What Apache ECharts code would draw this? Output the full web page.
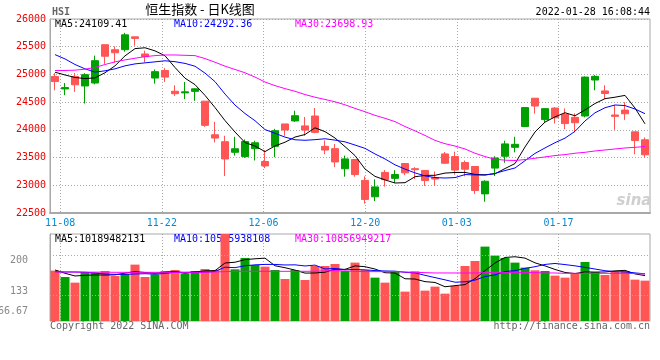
<!DOCTYPE html>
<html><head><meta charset="utf-8">
<script src="https://cdn.jsdelivr.net/npm/echarts@6/dist/echarts.min.js"></script>
<style>html,body{margin:0;padding:0;background:#fff}#c{width:660px;height:360px}</style>
</head><body><div id="c"></div>
<script>
const dates = ['11-05','11-08','11-09','11-10','11-11','11-12','11-15','11-16','11-17','11-18','11-19','11-22','11-23','11-24','11-25','11-26','11-29','11-30',
'12-01','12-02','12-03','12-06','12-07','12-08','12-09','12-10','12-13','12-14','12-15','12-16','12-17','12-20','12-21','12-22','12-23','12-24','12-28','12-29','12-30','12-31',
'01-03','01-04','01-05','01-06','01-07','01-10','01-11','01-12','01-13','01-14','01-17','01-18','01-19','01-20','01-21','01-24','01-25','01-26','01-27','01-28'];
const tickLabels = ['11-08','11-22','12-06','12-20','01-03','01-17'];

const open  = [24964,24738,24964,24792,24845,25536,25446,25446,25678,25369,24935,25071,24696,24667,24695,24518,23911,23786,23595,23518,23661,23429,23702,24107,24161,24071,24250,23702,23661,23298,23464,23089,22792,23232,23125,23393,23300,23268,23140,23566,23518,23411,23339,22845,23310,23524,23685,24060,24571,24185,24393,24280,24226,24250,24899,24702,24268,24357,23964,23821];
const close = [24871,24763,24813,24996,25248,25328,25391,25714,25650,25320,25050,24952,24652,24686,24740,24081,23852,23475,23659,23789,23767,23349,23984,23997,24255,23996,23955,23636,23421,23476,23193,22745,22971,23102,23194,23224,23281,23087,23112,23398,23275,23290,22907,23073,23493,23747,23739,24402,24430,24383,24218,24113,24128,24952,24966,24656,24244,24290,23807,23550];
const low   = [24714,24625,24685,24476,24821,25190,25214,25411,25518,25220,24833,24863,24613,24554,24524,24054,23774,23167,23536,23494,23447,23310,23506,23893,24143,23893,23940,23560,23327,23155,23155,22667,22714,22976,23042,23185,23113,22988,22988,23390,23191,23161,22845,22703,23167,23405,23595,24060,24292,24131,24113,24012,23958,24226,24714,24560,24000,24180,23560,23500];
const high  = [25024,24845,25024,25024,25339,25536,25506,25750,25678,25429,25089,25113,24804,24863,24750,24518,24143,23893,23875,23827,23804,23631,24018,24107,24345,24232,24393,23810,23744,23536,23464,23161,23107,23274,23274,23393,23327,23268,23250,23601,23607,23447,23339,23089,23524,23804,23875,24411,24571,24393,24411,24387,24298,24964,24988,24804,24446,24500,23964,23863];

const ma5  = [25040,24990,24945,24925,24938,25030,25155,25335,25466,25481,25425,25337,25125,24932,24816,24622,24402,24167,23961,23771,23708,23608,23710,23777,23870,23916,24037,23968,23853,23697,23536,23294,23161,23097,23041,23047,23154,23178,23180,23220,23231,23232,23196,23189,23208,23302,23392,23691,23962,24140,24234,24309,24254,24359,24475,24563,24589,24622,24393,24109];
const ma10 = [25357,25280,25179,25101,25042,25065,25101,25155,25190,25209,25227,25246,25230,25199,25148,25024,24870,24646,24447,24294,24165,24005,23938,23869,23821,23812,23823,23839,23815,23784,23726,23666,23565,23475,23369,23292,23224,23169,23139,23131,23139,23193,23187,23184,23214,23266,23312,23444,23575,23674,23768,23851,23973,24161,24308,24399,24449,24438,24376,24292];
const ma30 = [25071,25071,25077,25095,25125,25179,25226,25262,25292,25321,25339,25351,25351,25345,25339,25286,25220,25149,25089,25030,24952,24863,24798,24744,24696,24637,24589,24548,24506,24452,24387,24327,24262,24208,24149,24060,23982,23899,23810,23750,23708,23655,23578,23518,23470,23453,23447,23464,23488,23512,23536,23554,23578,23595,23619,23637,23655,23673,23685,23699];

const volume = [115.8,101.2,88.2,112.7,111.2,115,103.5,108.1,129.6,101.2,107.3,115,117.3,109.6,115,119.6,117.3,205,118.8,144.9,128.8,125,117.3,96.6,117.3,94.3,126.5,126.5,131.1,115,134.2,117.3,99.7,88.2,112.7,67.5,114.2,69.8,79,62.9,80.5,126.5,138,171,150.3,144.9,134.2,122.7,116.5,115,104.3,99.7,109.6,135.7,112.7,105.8,112.7,115,95.1,92.8];
const volMa5  = [117.3,109.7,103.5,105,105.8,105.7,106.1,110.1,113.5,111.5,109.9,112.2,114.1,110.1,112.8,115.3,115.8,133.3,135.1,141.1,143,144.5,127,122.5,117,110.1,110.4,112.2,119.1,118.7,126.7,124.8,119.5,110.9,110.4,97.1,96.5,90.5,88.6,78.7,81.3,83.7,97.4,115.8,133.3,146.1,147.7,144.6,133.7,126.7,118.5,111.6,109,112.9,112.4,112.7,115.3,116.4,108.3,104.3];
const volMa10 = [113.5,112.7,112.7,112,110.5,108.1,107.3,107.3,108.1,108.7,107.8,109.2,112.1,111.8,112.2,112.6,114,123.7,122.6,127,129.1,130.1,130.1,128.8,129.1,126.5,128.5,119.6,120.8,117.8,118.4,117.6,115.9,115,114.6,111.9,110.6,105,99.8,94.6,89.2,90.1,93.9,102.2,106,113.7,115.7,121,124.8,130,132.3,129.7,126.8,123.3,119.5,115.6,113.5,112.7,110.6,108.3];
const volMa30 = [112.7,112.7,112.5,112.3,112.3,112.3,111.9,111.9,111.9,111.9,111.9,111.9,111.9,111.9,111.9,111.9,112.7,113.5,114.2,114.2,114.2,114.2,114.2,114.2,114.2,114.2,114.6,115,115.8,115,114.2,113.5,113.5,113.5,113.5,112.7,111.9,111.2,110.4,110.4,110.4,110.4,110.4,111.2,111.2,111.2,111.2,111.2,111.2,110.4,110.4,109.6,109.6,109.6,109.6,109.6,109.6,109.6,108.9,108.1];
const volGridValues = [152, 60];
const volAxisLabels = ['200', '133', '66.67'];

const MONO = 'DejaVu Sans Mono';
const UP = '#00a000', DOWN = '#ff5555';
const GRIDC = '#a8a8a8';
const isTick = (idx, val) => tickLabels.indexOf(val) >= 0;
const candles = dates.map((d, i) => [open[i], close[i], low[i], high[i]]);
const volData = volume.map((v, i) => ({ value: v, itemStyle: { color: close[i] >= open[i] ? UP : DOWN } }));
const maLine = (data, color, xi, yi) => ({ type: 'line', data, xAxisIndex: xi, yAxisIndex: yi, symbol: 'none', silent: true,
  lineStyle: { color, width: 1 }, z: 5 });
const txt = (text, x, y, fill, font, align) => ({ type: 'text', x, y, silent: true,
  style: { text, fill, font: font || ('10px ' + MONO), align: align || 'left', verticalAlign: 'middle' } });

const chart = echarts.init(document.getElementById('c'));
chart.setOption({
  animation: false,
  grid: [
    { left: 50, top: 19, width: 600, height: 194, show: true, borderColor: GRIDC, borderWidth: 1 },
    { left: 50, top: 234, width: 600, height: 87, show: true, borderColor: GRIDC, borderWidth: 1 }
  ],
  xAxis: [
    { type: 'category', gridIndex: 0, data: dates, boundaryGap: true, show: false, position: 'top' },
    { type: 'category', gridIndex: 0, data: dates, boundaryGap: false, position: 'bottom',
      axisLine: { lineStyle: { color: GRIDC, width: 2 } }, axisTick: { show: false },
      axisLabel: { interval: isTick, color: '#0a88d0', fontFamily: MONO, fontSize: 10, margin: 5 },
      splitLine: { show: true, interval: isTick, lineStyle: { color: GRIDC, type: [1, 2] } } },
    { type: 'category', gridIndex: 1, data: dates, boundaryGap: true, show: false, position: 'top' },
    { type: 'category', gridIndex: 1, data: dates, boundaryGap: false, position: 'bottom',
      axisLine: { show: false }, axisTick: { show: false }, axisLabel: { show: false },
      splitLine: { show: true, interval: isTick, lineStyle: { color: GRIDC, type: [1, 2] } } }
  ],
  yAxis: [
    { type: 'value', gridIndex: 0, min: 22500, max: 26000, interval: 500,
      axisLine: { show: true, lineStyle: { color: GRIDC } }, axisTick: { show: false },
      axisLabel: { color: '#ee0000', fontFamily: MONO, fontSize: 10, margin: 4, formatter: v => String(v) },
      splitLine: { show: true, lineStyle: { color: GRIDC, type: [1, 2] } } },
    { type: 'value', gridIndex: 1, min: 0, max: 200,
      axisLine: { show: true, lineStyle: { color: GRIDC } }, axisTick: { show: false },
      axisLabel: { show: false }, splitLine: { show: false } }
  ],
  series: [
    { type: 'candlestick', xAxisIndex: 0, yAxisIndex: 0, data: candles, barWidth: 8, silent: true,
      itemStyle: { color: UP, color0: DOWN, borderColor: UP, borderColor0: DOWN, borderWidth: 1 } },
    maLine(ma5, '#000000', 0, 0),
    maLine(ma10, '#0000ff', 0, 0),
    maLine(ma30, '#ff00ff', 0, 0),
    { type: 'bar', xAxisIndex: 2, yAxisIndex: 1, data: volData, barWidth: 9, silent: true,
      markLine: { silent: true, symbol: 'none', label: { show: false },
        lineStyle: { color: GRIDC, type: [1, 2], width: 1 },
        data: volGridValues.map(v => ({ yAxis: v })) } },
    maLine(volMa5, '#000000', 2, 1),
    maLine(volMa10, '#0000ff', 2, 1),
    maLine(volMa30, '#ff00ff', 2, 1)
  ],
  graphic: [
    txt('HSI', 52, 12, '#666666', 'bold 10px ' + MONO),
    txt('恒生指数 - 日K线图', 200, 9, '#000000', '13px "Noto Sans CJK SC"', 'center'),
    txt('2022-01-28 16:08:44', 650, 12, '#000000', '10px ' + MONO, 'right'),
    txt('MA5:24109.41', 55, 24, '#000000'),
    txt('MA10:24292.36', 174, 24, '#0000ff'),
    txt('MA30:23698.93', 295, 24, '#ff00ff'),
    txt('MA5:10189482131', 55, 239, '#000000'),
    txt('MA10:10595938108', 174, 239, '#0000ff'),
    txt('MA30:10856949217', 295, 239, '#ff00ff'),
    txt(volAxisLabels[0], 28, 260, '#888888', null, 'right'),
    txt(volAxisLabels[1], 28, 291, '#888888', null, 'right'),
    txt(volAxisLabels[2], 28, 311, '#888888', null, 'right'),
    txt('Copyright 2022 SINA.COM', 50, 326, '#666666'),
    txt('http://finance.sina.com.cn', 650, 326, '#666666', null, 'right'),
    txt('sina', 634, 201, '#cfcfcf', 'italic bold 15px "DejaVu Sans"', 'center')
  ]
});
</script></body></html>
